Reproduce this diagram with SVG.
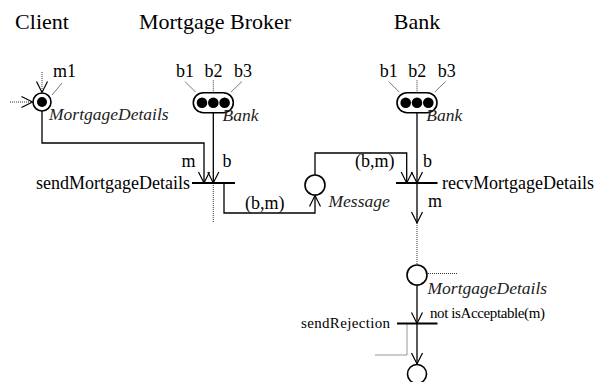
<svg xmlns="http://www.w3.org/2000/svg" width="594" height="382" viewBox="0 0 594 382">
<style>
.title{font-size:22px}
.lbl{font-size:18px}
.it{font-size:17.5px;font-style:italic}
.small{font-size:15px}
.ln{fill:none;stroke:#000;stroke-width:1.3}
.dot{fill:none;stroke:#333;stroke-width:1;stroke-dasharray:1,1}
.tick{fill:none;stroke:#555;stroke-width:0.8}
.bar{stroke:#000;stroke-width:1.8}
.place{fill:#fff;stroke:#000;stroke-width:1.6}
.tok{fill:#000}
</style>
<defs>
<marker id="arr" markerUnits="userSpaceOnUse" markerWidth="16" markerHeight="16" viewBox="-13 -8 16 16" refX="0" refY="0" orient="auto" overflow="visible">
<path d="M-11,-5.5 L0,0 L-11,5.5" fill="none" stroke="#000" stroke-width="1.2"/>
</marker>
</defs>
<g font-family="'Liberation Serif', 'Times New Roman', serif" fill="#000">

<text class="title" x="42" y="29" text-anchor="middle">Client</text>
<text class="title" x="215" y="29" text-anchor="middle">Mortgage Broker</text>
<text class="title" x="417" y="29" text-anchor="middle">Bank</text>

<g id="connectors">
<path class="dot" d="M10,102 H32"/>
<path d="M21.5,96.5 L32.5,102 L21.5,107.5" fill="none" stroke="#000" stroke-width="1.2"/>
<path class="dot" d="M42,72 V92"/>
<path d="M36.5,81.5 L42,92.5 L47.5,81.5" fill="none" stroke="#000" stroke-width="1.2"/>
<path class="ln" d="M42,111 V143 H204 V183" marker-end="url(#arr)"/>
<path class="ln" d="M213.3,112.7 V183" marker-end="url(#arr)"/>
<path class="dot" d="M213.3,183 V223"/>
<path class="ln" d="M224,183 V213 H315 V195.5" marker-end="url(#arr)"/>
<path class="ln" d="M315,175 V153 H406.7 V183" marker-end="url(#arr)"/>
<path class="ln" d="M417,112.7 V183" marker-end="url(#arr)"/>
<path class="ln" d="M417,183 V223" marker-end="url(#arr)"/>
<path class="dot" d="M417,223 V265"/>
<path class="dot" d="M428,273.5 H458"/>
<path class="ln" d="M417,285 V323.5" marker-end="url(#arr)"/>
<path class="ln" d="M417,323.5 V364" marker-end="url(#arr)"/>
<path class="dot" d="M407,323.5 V355 H375"/>
</g>

<g id="client-place">
<circle class="place" cx="42" cy="102" r="9"/>
<circle class="tok" cx="42" cy="102" r="5"/>
<path class="tick" d="M52,95 L62,83"/>
<text class="lbl" x="53" y="77">m1</text>
<text class="it" x="49" y="120" fill="#222">MortgageDetails</text>
</g>

<g id="broker-bank-place">
<rect class="place" x="193.3" y="92.7" width="40" height="20" rx="10"/>
<circle class="tok" cx="202" cy="102.7" r="5.3"/>
<circle class="tok" cx="213.3" cy="102.7" r="5.3"/>
<circle class="tok" cx="224.6" cy="102.7" r="5.3"/>
<path class="tick" d="M195.5,92 L185,81.5"/>
<path class="dot" d="M213.3,92.7 V80"/>
<path class="tick" d="M231,92 L242,81.5"/>
<text class="lbl" x="176" y="77">b1</text>
<text class="lbl" x="204.5" y="77">b2</text>
<text class="lbl" x="234" y="77">b3</text>
<text class="it" x="222.5" y="121" fill="#222">Bank</text>
</g>

<g id="bank-bank-place">
<rect class="place" x="397" y="92.7" width="40" height="20" rx="10"/>
<circle class="tok" cx="405.7" cy="102.7" r="5.3"/>
<circle class="tok" cx="417" cy="102.7" r="5.3"/>
<circle class="tok" cx="428.3" cy="102.7" r="5.3"/>
<path class="tick" d="M399.2,92 L388.7,81.5"/>
<path class="dot" d="M417,92.7 V80"/>
<path class="tick" d="M434.7,92 L445.7,81.5"/>
<text class="lbl" x="379.7" y="77">b1</text>
<text class="lbl" x="408.2" y="77">b2</text>
<text class="lbl" x="437.7" y="77">b3</text>
<text class="it" x="426.2" y="121" fill="#222">Bank</text>
</g>

<g id="sendMortgageDetails">
<line class="bar" x1="192" y1="183" x2="235" y2="183"/>
<text class="lbl" x="190" y="188.5" text-anchor="end">sendMortgageDetails</text>
<text class="lbl" x="181.5" y="166.5">m</text>
<text class="lbl" x="222.5" y="166.5">b</text>
<text class="lbl" x="245" y="209">(b,m)</text>
</g>

<g id="message-place">
<circle class="place" cx="315" cy="185" r="10"/>
<text class="it" x="328.5" y="207" fill="#222">Message</text>
</g>

<g id="recvMortgageDetails">
<line class="bar" x1="396" y1="183" x2="437.5" y2="183"/>
<text class="lbl" x="442" y="188.5">recvMortgageDetails</text>
<text class="lbl" x="355" y="166.5">(b,m)</text>
<text class="lbl" x="423" y="166.5">b</text>
<text class="lbl" x="428" y="207">m</text>
</g>

<g id="mortgage-details-place">
<circle class="place" cx="417" cy="275" r="10"/>
<text class="it" x="427.5" y="294" fill="#222">MortgageDetails</text>
</g>

<g id="sendRejection">
<line class="bar" x1="397" y1="323.5" x2="437.5" y2="323.5"/>
<text class="small" x="390" y="327.5" text-anchor="end" textLength="89">sendRejection</text>
<text class="small" x="430" y="318" textLength="115">not isAcceptable(m)</text>
</g>

<g id="final-place">
<circle class="place" cx="417" cy="374" r="9.5"/>
</g>
</g>
</svg>
